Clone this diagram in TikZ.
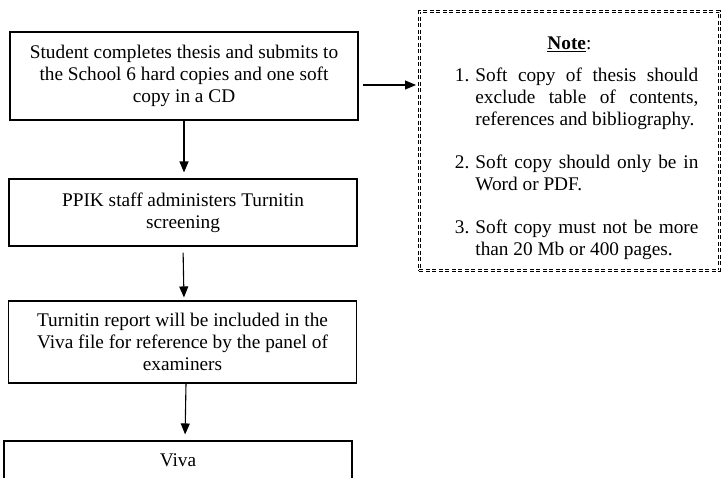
\documentclass[tikz,border=0pt]{standalone}
\usepackage{fontspec}
\setmainfont{Liberation Serif}
\usepackage{enumitem}
\usepackage{tikz}
\usetikzlibrary{arrows.meta}
\usetikzlibrary{calc}
\usetikzlibrary{positioning}
\hyphenpenalty=10000
\exhyphenpenalty=10000

\begin{document}
\begin{tikzpicture}[x=1pt,y=-1pt,
		flowbox/.style={draw,line width=1.1pt,text width=314pt,inner xsep=17pt,inner ysep=0pt,align=flush center,font=\fontsize{19.3}{22}\selectfont},
		notebox/.style={draw,double,line width=0.8pt,double distance=1.2pt,dash pattern=on 4pt off 2.5pt,text width=258pt,inner xsep=21pt,inner ysep=11pt,align=justify,font=\fontsize{19.3}{22}\selectfont},
		flowarrow/.style={-{Triangle[length=11pt,width=9pt]},line width=1.1pt}]
		\useasboundingbox (0,0) rectangle (723,477);
		\node[flowbox,minimum height=88pt] (submit) at (184,76) {Student completes thesis and submits to the School 6 hard copies and one soft copy in a CD};
		\node[flowbox,minimum height=67pt] (screen) at (183,212.5) {PPIK staff administers Turnitin screening};
		\node[flowbox,minimum height=82pt] (report) at (182.5,342) {Turnitin report will be included in the Viva file for reference by the panel of examiners};
		\node[flowbox,minimum height=38pt] (viva) at (178,460) {Viva};
		\node[notebox,anchor=north west] (note) at (419,11) {{\centering\rule{0pt}{27pt}\underline{\textbf{Note}}:\par}
			\vspace{10pt}
			\begin{enumerate}[leftmargin=35pt,labelsep=6pt,itemsep=21pt,topsep=0pt,parsep=0pt,partopsep=0pt]
				\item Soft copy of thesis should exclude table of contents, references and bibliography.
				\item Soft copy should only be in Word or PDF.
				\item Soft copy must not be more than 20 Mb or 400 pages.
			\end{enumerate}};
		\coordinate (noteIn) at ($(submit.east)+(4,9)$);
		\draw[flowarrow,shorten >=3pt] (noteIn) -- (noteIn -| note.west);
		\draw[flowarrow,shorten >=6pt] (submit.south) -- (submit.south |- screen.north);
		\draw[flowarrow,shorten <=6pt,shorten >=3pt] (screen.south) -- ([xshift=1.5pt]report.north);
		\draw[flowarrow,shorten >=6pt] ([xshift=3.5pt]report.south) -- ([xshift=7pt]viva.north);
	\end{tikzpicture}
\end{document}
